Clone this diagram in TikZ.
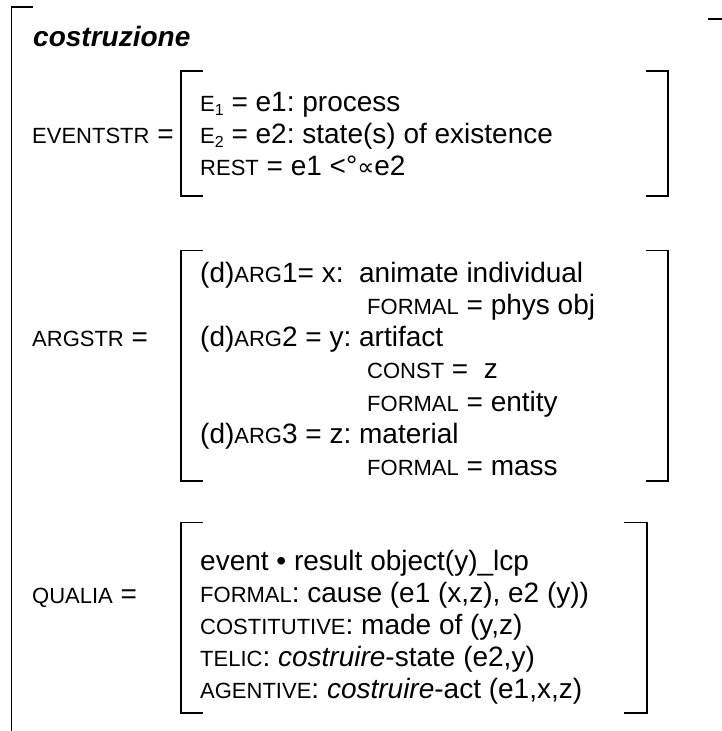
\documentclass[tikz,border=0pt]{standalone}
\usepackage{fontspec}
\setmainfont{Liberation Sans}
\newfontfamily\symfont{DejaVu Sans}
\newcommand\smc[1]{{\fontsize{22}{26}\selectfont #1}}
\newcommand\subnum[1]{\raisebox{-4pt}{\fontsize{16}{16}\selectfont #1}}
\tikzset{
  txt/.style={anchor=base west, inner sep=0pt, font=\fontsize{28}{32}\selectfont},
  brk/.style={line width=1.6pt, line cap=rect},
}
\begin{document}
\begin{tikzpicture}[x=1pt,y=-1pt]
\useasboundingbox (0,0) rectangle (722,731);
\frenchspacing
% outer frame
\draw[brk] (11.5,731) -- (11.5,7) -- (32,7);
\draw[brk] (709,19) -- (722,19);
\node[txt] (title) at (33,46) {\bfseries\itshape costruzione};

% EVENTSTR
\draw[brk] (202,71) -- (181,71) -- (181,196) -- (202,196);
\draw[brk] (647,71) -- (668,71) -- (668,196) -- (647,196);
\node[txt] (evlab) at (32,143) {\smc{EVENTSTR} =};
\node[txt] (ev1) at (200,111) {\smc{E}\subnum{1} = e1: process};
\node[txt] (ev2) at (200,143) {\smc{E}\subnum{2} = e2: state(s) of existence};
\node[txt] (ev3) at (200,175) {\smc{REST} = e1 <°{\symfont\fontsize{24}{24}\selectfont ∝}e2};

% ARGSTR
\draw[brk] (202,250.5) -- (181,250.5) -- (181,481) -- (202,481);
\draw[brk] (647,250.5) -- (668,250.5) -- (668,481) -- (647,481);
\node[txt] (arglab) at (32,346) {\smc{ARGSTR} =};
\node[txt] (a1) at (200,282) {(d)\smc{ARG}1= x:\ \ animate individual};
\node[txt] (a1f) at (367,314) {\smc{FORMAL} = phys obj};
\node[txt] (a2) at (200,346) {(d)\smc{ARG}2 = y: artifact};
\node[txt] (a2c) at (367,378) {\smc{CONST} =\ \ z};
\node[txt] (a2f) at (367,411) {\smc{FORMAL} = entity};
\node[txt] (a3) at (200,443) {(d)\smc{ARG}3 = z: material};
\node[txt] (a3f) at (367,475) {\smc{FORMAL} = mass};

% QUALIA
\draw[brk] (202,522.5) -- (181,522.5) -- (181,713) -- (202,713);
\draw[brk] (625,522.5) -- (647,522.5) -- (647,713) -- (625,713);
\node[txt] (qlab) at (32,603) {\smc{QUALIA} =};
\node[txt] (q1) at (200,570) {event • result object(y)\_lcp};
\node[txt] (q2) at (200,602) {\smc{FORMAL}: cause (e1 (x,z), e2 (y))};
\node[txt] (q3) at (200,634) {\smc{COSTITUTIVE}: made of (y,z)};
\node[txt] (q4) at (200,666) {\smc{TELIC}: \textit{costruire}-state (e2,y)};
\node[txt] (q5) at (200,698) {\smc{AGENTIVE}: \textit{costruire}-act (e1,x,z)};
\end{tikzpicture}
\end{document}
